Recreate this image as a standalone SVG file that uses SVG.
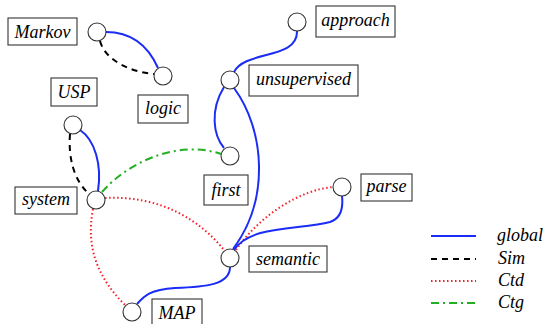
<svg xmlns="http://www.w3.org/2000/svg" width="545" height="324" viewBox="0 0 545 324">
<style>
.n{fill:#fff;stroke:#333;stroke-width:1.1}
.b{fill:#fff;stroke:#333;stroke-width:1.1}
.g{fill:none;stroke:#1a2cf5;stroke-width:2}
.s{fill:none;stroke:#000;stroke-width:2;stroke-dasharray:6,5}
.d{fill:none;stroke:#f5202a;stroke-width:2;stroke-dasharray:1.5,2.5}
.c{fill:none;stroke:#22b022;stroke-width:2;stroke-dasharray:8,4,2,4}
</style>
<g id="connectors">
<path class="g" d="M106 32 C135 32,150 50,158 68"/>
<path class="s" d="M100 41 C105 60,130 72,154 74"/>
<path class="g" d="M80 130 C95 140,102 165,98 191"/>
<path class="s" d="M70 134 C68 160,75 180,87 192"/>
<path class="c" d="M102 192 C130 160,180 140,221 154"/>
<path class="d" d="M105 198 C160 195,200 220,224 250"/>
<path class="d" d="M93 209 C85 250,100 280,125 305"/>
<path class="g" d="M224 87 C210 110,213 135,224 148"/>
<path class="g" d="M234 88 C265 130,270 200,233 249"/>
<path class="g" d="M297 31 C298 60,245 50,234 72"/>
<path class="d" d="M236 250 C260 215,300 190,333 187"/>
<path class="g" d="M234 250 C250 225,300 230,330 222 C342 218,343 205,342 196"/>
<path class="g" d="M230 267 C230 285,205 287,175 288 C150 290,145 295,137 304"/>
</g>
<g font-family="Liberation Serif" font-style="italic" font-size="18" fill="#000" text-anchor="middle">
<g id="Markov"><rect class="b" x="8" y="18" width="69" height="27"/><text x="42.5" y="37.5">Markov</text><circle class="n" cx="97" cy="32" r="9"/></g>
<g id="logic"><rect class="b" x="138" y="95" width="50" height="28"/><text x="163" y="114">logic</text><circle class="n" cx="163" cy="76" r="9"/></g>
<g id="USP"><rect class="b" x="51" y="78" width="46" height="28"/><text x="74" y="98">USP</text><circle class="n" cx="73" cy="125" r="9"/></g>
<g id="system"><rect class="b" x="15" y="187" width="62" height="27"/><text x="46" y="205">system</text><circle class="n" cx="96" cy="200" r="9"/></g>
<g id="first"><rect class="b" x="204" y="175" width="44" height="30"/><text x="226" y="196">first</text><circle class="n" cx="230" cy="156" r="9"/></g>
<g id="unsupervised"><rect class="b" x="249" y="65" width="109" height="31"/><text x="303.5" y="85">unsupervised</text><circle class="n" cx="230" cy="80" r="9"/></g>
<g id="approach"><rect class="b" x="316" y="6" width="79" height="31"/><text x="355.5" y="26">approach</text><circle class="n" cx="297" cy="22" r="9"/></g>
<g id="parse"><rect class="b" x="361" y="174" width="51" height="27"/><text x="386.5" y="192">parse</text><circle class="n" cx="342" cy="187" r="9"/></g>
<g id="semantic"><rect class="b" x="249" y="246" width="78" height="26"/><text x="288" y="265">semantic</text><circle class="n" cx="230" cy="258" r="9"/></g>
<g id="MAP"><rect class="b" x="152" y="299" width="50" height="30"/><text x="177" y="319">MAP</text><circle class="n" cx="132" cy="312" r="9"/></g>
</g>
<g id="legend">
<line class="g" x1="431" y1="236" x2="476" y2="236"/>
<line class="s" x1="431" y1="259" x2="476" y2="259"/>
<line class="d" x1="431" y1="281" x2="476" y2="281"/>
<line class="c" x1="431" y1="303" x2="476" y2="303"/>
<g font-family="Liberation Serif" font-style="italic" font-size="18" fill="#000">
<text x="497" y="241">global</text>
<text x="498" y="264">Sim</text>
<text x="498" y="286">Ctd</text>
<text x="498" y="308">Ctg</text>
</g>
</g>
</svg>
